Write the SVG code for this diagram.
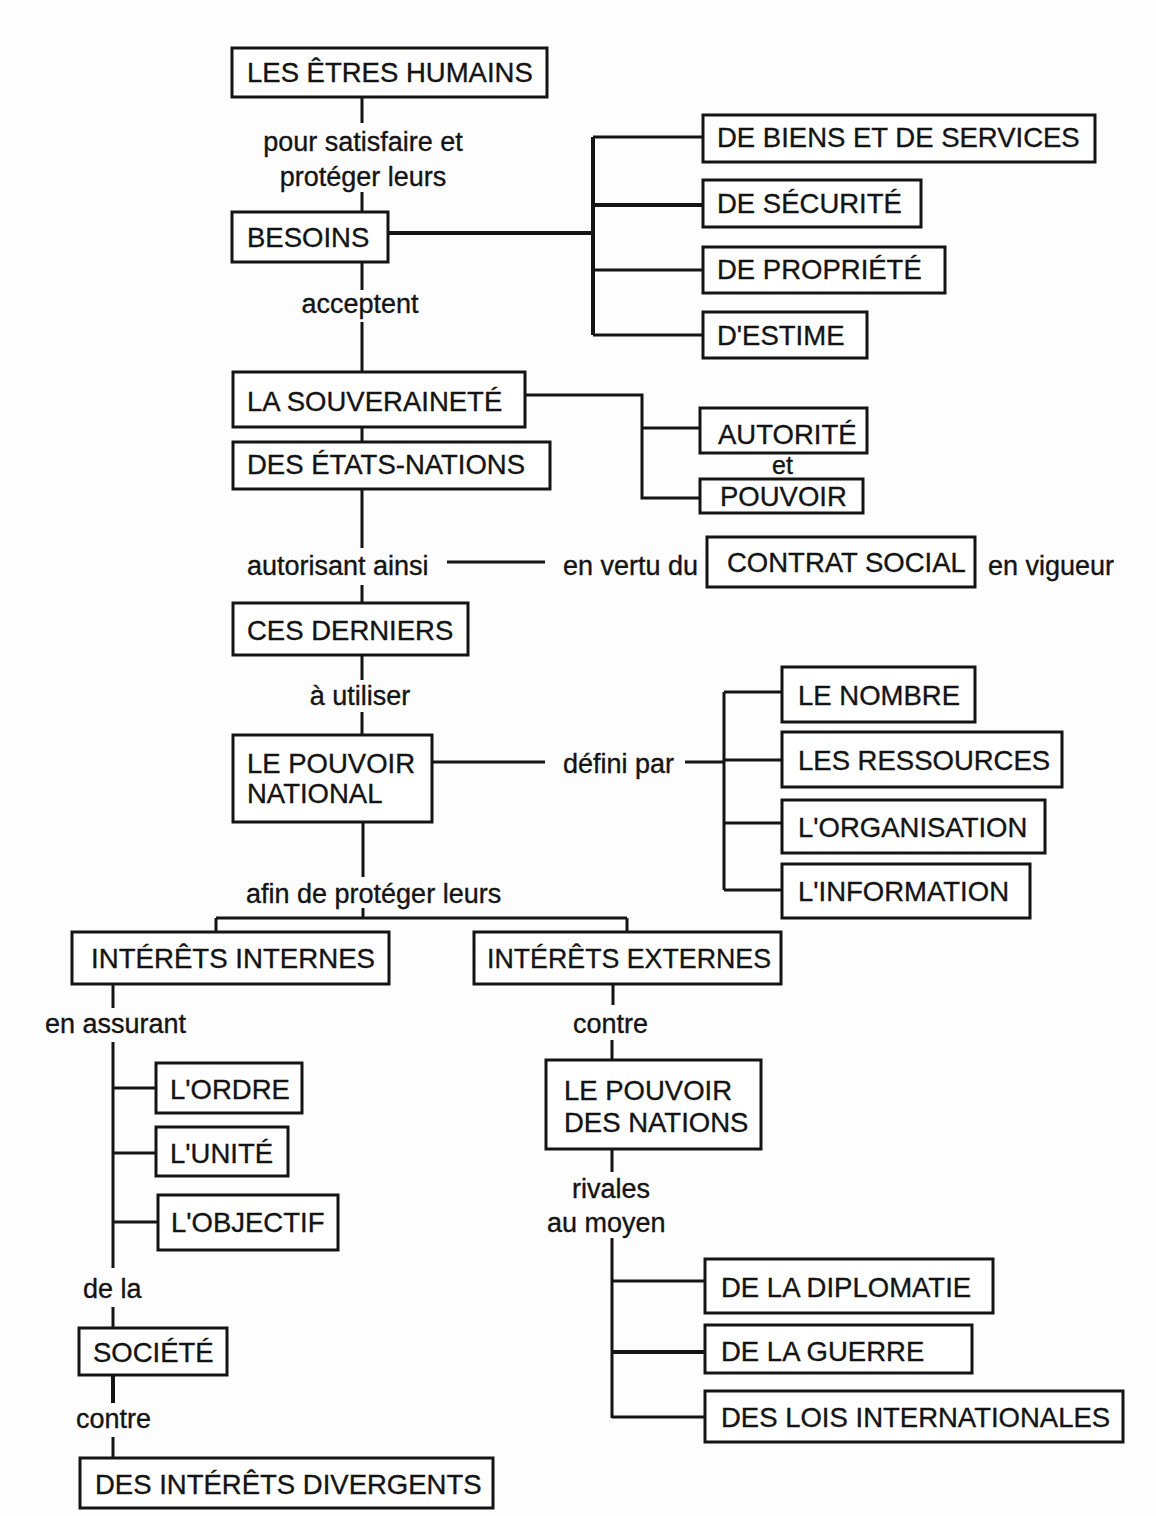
<svg xmlns="http://www.w3.org/2000/svg" width="1156" height="1516" viewBox="0 0 1156 1516">
<style>
.bg{fill:#fdfdfd}
.box{fill:#fff;stroke:#141414;stroke-width:3}
.t{font-family:"Liberation Sans",Arial,Helvetica,sans-serif;font-size:27.5px;fill:#141414;stroke:#141414;stroke-width:0.35}
.l{font-family:"Liberation Sans",Arial,Helvetica,sans-serif;font-size:27px;fill:#141414;stroke:#141414;stroke-width:0.35}
.m{text-anchor:middle}
.c{stroke:#141414;stroke-width:3;fill:none}
.k{stroke-width:4}
</style>
<rect class="bg" x="0" y="0" width="1156" height="1516"/>
<g id="connectors">
<path class="c" d="M362 97V123M362 192V212M362 262V290M362 322V372M362 427V442M362 489V548M362 585V603M362 655V680M362 712V735"/>
<path class="c k" d="M388 233H593M593 137V335M593 205H702"/>
<path class="c" d="M593 137H702M593 270H703M593 335H702"/>
<path class="c" d="M525 395H642V498H700M642 428H700"/>
<path class="c" d="M447 562H545"/>
<path class="c" d="M432 762H545M685 762H724"/>
<path class="c" d="M724 692V890M724 692H782M724 760H782M724 823H782M724 890H782"/>
<path class="c" d="M363 822V877M363 908V918M216 918H627M216 918V932M627 918V932"/>
<path class="c" d="M113 984V1008M113 1042V1268M113 1088H156M113 1153H156M113 1222H158M113 1307V1328M113 1437V1458"/>
<path class="c k" d="M113 1375V1403"/>
<path class="c" d="M613 984V1005M612 1040V1060M612 1149V1172M612 1238V1418M612 1281H705M612 1417H705"/>
<path class="c k" d="M612 1352H705"/>
</g>
<g id="labels">
<text class="l m" x="363" y="151">pour satisfaire et</text>
<text class="l m" x="363" y="186">protéger leurs</text>
<text class="l m" x="360" y="313">acceptent</text>
<text class="l" x="772" y="474" style="font-size:25px">et</text>
<text class="l" x="247" y="575">autorisant ainsi</text>
<text class="l" x="563" y="575">en vertu du</text>
<text class="l" x="988" y="575">en vigueur</text>
<text class="l m" x="360" y="705">à utiliser</text>
<text class="l" x="563" y="773">défini par</text>
<text class="l" x="246" y="903">afin de protéger leurs</text>
<text class="l" x="45" y="1033">en assurant</text>
<text class="l" x="573" y="1033">contre</text>
<text class="l" x="83" y="1298">de la</text>
<text class="l" x="76" y="1428">contre</text>
<text class="l" x="572" y="1198">rivales</text>
<text class="l" x="547" y="1232">au moyen</text>
</g>
<g id="n-etres-humains"><rect class="box" x="232" y="48" width="315" height="49"/><text class="t" x="247" y="82">LES ÊTRES HUMAINS</text></g>
<g id="n-besoins"><rect class="box" x="232" y="212" width="156" height="50"/><text class="t" x="247" y="247">BESOINS</text></g>
<g id="n-biens"><rect class="box" x="703" y="115" width="392" height="47"/><text class="t" x="717" y="147">DE BIENS ET DE SERVICES</text></g>
<g id="n-securite"><rect class="box" x="703" y="180" width="218" height="47"/><text class="t" x="717" y="213">DE SÉCURITÉ</text></g>
<g id="n-propriete"><rect class="box" x="703" y="247" width="242" height="46"/><text class="t" x="717" y="279">DE PROPRIÉTÉ</text></g>
<g id="n-estime"><rect class="box" x="703" y="312" width="164" height="46"/><text class="t" x="717" y="345">D'ESTIME</text></g>
<g id="n-souverainete"><rect class="box" x="233" y="372" width="292" height="55"/><text class="t" x="247" y="411">LA SOUVERAINETÉ</text></g>
<g id="n-etats-nations"><rect class="box" x="233" y="442" width="317" height="47"/><text class="t" x="247" y="474">DES ÉTATS-NATIONS</text></g>
<g id="n-autorite"><rect class="box" x="700" y="408" width="167" height="45"/><text class="t" x="718" y="444">AUTORITÉ</text></g>
<g id="n-pouvoir"><rect class="box" x="700" y="479" width="163" height="34"/><text class="t" x="720" y="506">POUVOIR</text></g>
<g id="n-contrat-social"><rect class="box" x="707" y="537" width="268" height="50"/><text class="t" x="727" y="572">CONTRAT SOCIAL</text></g>
<g id="n-ces-derniers"><rect class="box" x="233" y="603" width="235" height="52"/><text class="t" x="247" y="640">CES DERNIERS</text></g>
<g id="n-pouvoir-national"><rect class="box" x="233" y="735" width="199" height="87"/><text class="t" x="247" y="773">LE POUVOIR</text><text class="t" x="247" y="803">NATIONAL</text></g>
<g id="n-nombre"><rect class="box" x="782" y="667" width="193" height="55"/><text class="t" x="798" y="705">LE NOMBRE</text></g>
<g id="n-ressources"><rect class="box" x="782" y="732" width="280" height="55"/><text class="t" x="798" y="770">LES RESSOURCES</text></g>
<g id="n-organisation"><rect class="box" x="782" y="800" width="263" height="53"/><text class="t" x="798" y="837">L'ORGANISATION</text></g>
<g id="n-information"><rect class="box" x="782" y="864" width="248" height="54"/><text class="t" x="798" y="901">L'INFORMATION</text></g>
<g id="n-interets-internes"><rect class="box" x="72" y="932" width="317" height="52"/><text class="t" x="91" y="968" textLength="284" lengthAdjust="spacingAndGlyphs">INTÉRÊTS INTERNES</text></g>
<g id="n-interets-externes"><rect class="box" x="474" y="932" width="307" height="52"/><text class="t" x="487" y="968" textLength="284" lengthAdjust="spacingAndGlyphs">INTÉRÊTS EXTERNES</text></g>
<g id="n-ordre"><rect class="box" x="156" y="1063" width="146" height="50"/><text class="t" x="170" y="1099">L'ORDRE</text></g>
<g id="n-unite"><rect class="box" x="156" y="1127" width="132" height="49"/><text class="t" x="170" y="1163">L'UNITÉ</text></g>
<g id="n-objectif"><rect class="box" x="158" y="1195" width="180" height="55"/><text class="t" x="171" y="1232">L'OBJECTIF</text></g>
<g id="n-societe"><rect class="box" x="79" y="1328" width="148" height="47"/><text class="t" x="93" y="1362">SOCIÉTÉ</text></g>
<g id="n-interets-divergents"><rect class="box" x="80" y="1458" width="413" height="50"/><text class="t" x="95" y="1494">DES INTÉRÊTS DIVERGENTS</text></g>
<g id="n-pouvoir-nations"><rect class="box" x="546" y="1060" width="215" height="89"/><text class="t" x="564" y="1100">LE POUVOIR</text><text class="t" x="564" y="1132">DES NATIONS</text></g>
<g id="n-diplomatie"><rect class="box" x="705" y="1259" width="288" height="54"/><text class="t" x="721" y="1297">DE LA DIPLOMATIE</text></g>
<g id="n-guerre"><rect class="box" x="705" y="1325" width="267" height="48"/><text class="t" x="721" y="1361">DE LA GUERRE</text></g>
<g id="n-lois"><rect class="box" x="705" y="1391" width="418" height="51"/><text class="t" x="721" y="1427">DES LOIS INTERNATIONALES</text></g>
</svg>
